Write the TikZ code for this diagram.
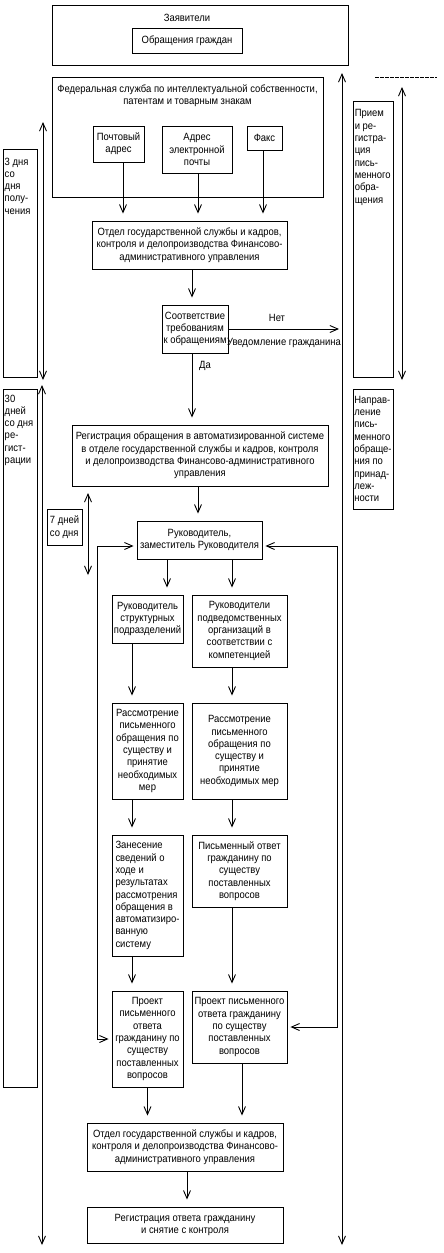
\documentclass[tikz,border=0pt]{standalone}
\usepackage{fontspec}
\setmainfont[FakeStretch=0.9]{Liberation Sans}
\usetikzlibrary{arrows.meta}
\newcommand\blkfont{\fontsize{10.5}{12.3}\selectfont}

\begin{document}
\begin{tikzpicture}[x=1pt,y=-1pt,
    box/.style={draw, line width=0.9pt, inner sep=1pt, align=center, font=\blkfont},
    lbl/.style={inner sep=1pt, align=center, font=\blkfont},
    ltxt/.style={inner sep=1pt, align=left, font=\blkfont, anchor=north west},
    harr/.style={line width=0.9pt, -{Straight Barb[length=8pt,width=7pt]}},
    arr/.style={line width=0.9pt, -{Straight Barb[length=8pt,width=7pt]}, shorten >=7pt},
    darr/.style={line width=0.9pt, {Straight Barb[length=8pt,width=7pt]}-{Straight Barb[length=8pt,width=7pt]}}]

    \useasboundingbox (0,0) rectangle (444,1253);

    % Applicants
    \node[box, minimum width=296, minimum height=60] (zaj) at (200,35) {};
    \node[lbl] (zajt) at (187,18) {Заявители};
    \node[box, minimum width=110, minimum height=25] (obr) at (187,40.5) {Обращения граждан};

    % Federal service and its channels
    \node[box, minimum width=271, minimum height=120] (fed) at (187.5,137) {};
    \node[lbl] (fedt) at (187.5,96) {Федеральная служба по интеллектуальной собственности,\\патентам и товарным знакам};
    \node[box, minimum width=51, minimum height=36] (post) at (118.5,144) {Почтовый\\адрес};
    \node[box, minimum width=70, minimum height=47] (email) at (197,149.5) {Адрес\\электронной\\почты};
    \node[box, minimum width=35, minimum height=24] (fax) at (264.5,138) {Факс};

    % Main chain
    \node[box, minimum width=195, minimum height=48] (otd1) at (189.5,245) {Отдел государственной службы и кадров,\\контроля и делопроизводства Финансово-\\административного управления};
    \node[box, minimum width=66, minimum height=48] (sootv) at (195,329) {Соответствие\\требованиям\\к обращениям};
    \node[box, minimum width=256, minimum height=61] (regz) at (200,455.5) {Регистрация обращения в автоматизированной системе\\в отделе государственной службы и кадров, контроля\\и делопроизводства Финансово-административного\\управления};
    \node[box, minimum width=125, minimum height=38] (ruk) at (199.5,540) {Руководитель,\\заместитель Руководителя};

    % Two branches
    \node[box, minimum width=71, minimum height=48] (rs) at (147.5,619) {Руководитель\\структурных\\подразделений};
    \node[box, minimum width=95, minimum height=72] (rp) at (239.5,631) {Руководители\\подведомственных\\организаций в\\соответствии с\\компетенцией};
    \node[box, minimum width=71, minimum height=96] (ras1) at (147.5,751) {Рассмотрение\\письменного\\обращения по\\существу и\\принятие\\необходимых\\мер};
    \node[box, minimum width=95, minimum height=96] (ras2) at (239.5,751) {Рассмотрение\\письменного\\обращения по\\существу и\\принятие\\необходимых мер};
    \node[box, align=left, minimum width=71, minimum height=121] (zan) at (147.5,895.5) {Занесение\\сведений о\\ходе и\\результатах\\рассмотрения\\обращения в\\автоматизиро-\\ванную\\систему};
    \node[box, minimum width=95, minimum height=72] (pis) at (239.5,871) {Письменный ответ\\гражданину по\\существу\\поставленных\\вопросов};
    \node[box, minimum width=71, minimum height=96] (pr1) at (147.5,1039) {Проект\\письменного\\ответа\\гражданину по\\существу\\поставленных\\вопросов};
    \node[box, minimum width=95, minimum height=72] (pr2) at (239.5,1027) {Проект письменного\\ответа гражданину\\по существу\\поставленных\\вопросов};

    % Final steps
    \node[box, minimum width=196, minimum height=48] (otd2) at (185,1147) {Отдел государственной службы и кадров,\\контроля и делопроизводства Финансово-\\административного управления};
    \node[box, minimum width=196, minimum height=36] (regotv) at (185,1225) {Регистрация ответа гражданину\\и снятие с контроля};

    % Time limits and stages
    \node[box, minimum width=34, minimum height=228] (d3) at (20,263) {};
    \node[ltxt] (d3t) at ([xshift=1pt,yshift=-8pt]d3.north west) {3 дня\\со\\дня\\полу-\\чения};
    \node[box, minimum width=34, minimum height=698] (d30) at (20,738) {};
    \node[ltxt] (d30t) at ([xshift=1pt,yshift=-5pt]d30.north west) {30\\дней\\со дня\\ре-\\гист-\\рации};
    \node[box, align=left, minimum width=35, minimum height=36] (d7) at (64.5,527) {7 дней\\со дня};
    \node[box, minimum width=40, minimum height=276] (priem) at (373,239) {};
    \node[ltxt] (priemt) at ([xshift=1pt,yshift=-8pt]priem.north west) {Прием\\и ре-\\гистра-\\ция\\пись-\\менного\\обра-\\щения};
    \node[box, align=left, minimum width=40, minimum height=120] (napr) at (373,449) {Направ-\\ление\\пись-\\менного\\обраще-\\ния по\\принад-\\леж-\\ности};

    % Connectors
    \draw[arr] ([xshift=4.5pt]post.south) -- ([xshift=4.5pt]post.south |- otd1.north);
    \draw[arr] ([xshift=1pt]email.south) -- ([xshift=1pt]email.south |- otd1.north);
    \draw[arr] ([xshift=-1.5pt]fax.south) -- ([xshift=-1.5pt]fax.south |- otd1.north);
    \draw[arr] ([xshift=2.5pt]otd1.south) -- ([xshift=2.5pt]otd1.south |- sootv.north);
    \coordinate (net) at (339,329);
    \draw[harr] (sootv.east) -- (net);
    \node[lbl] (no) at (277,318) {Нет};
    \node[lbl] (notify) at (284,343) {Уведомление гражданина};
    \draw[arr] ([xshift=-3pt]sootv.south) -- ([xshift=-3pt]sootv.south |- regz.north);
    \node[lbl] (yes) at (205,366) {Да};
    \draw[arr] ([xshift=-2pt]regz.south) -- ([xshift=-2pt]regz.south |- ruk.north);
    \draw[arr] ([xshift=-32.5pt]ruk.south) -- ([xshift=-32.5pt]ruk.south |- rs.north);
    \draw[arr] ([xshift=32.5pt]ruk.south) -- ([xshift=32.5pt]ruk.south |- rp.north);
    \draw[arr] ([xshift=-15.5pt]rs.south) -- ([xshift=-15.5pt]rs.south |- ras1.north);
    \draw[arr] ([xshift=-7.5pt]rp.south) -- ([xshift=-7.5pt]rp.south |- ras2.north);
    \draw[arr] ([xshift=-15.5pt]ras1.south) -- ([xshift=-15.5pt]ras1.south |- zan.north);
    \draw[arr] ([xshift=-7.5pt]ras2.south) -- ([xshift=-7.5pt]ras2.south |- pis.north);
    \draw[arr] ([xshift=-15.5pt]zan.south) -- ([xshift=-15.5pt]zan.south |- pr1.north);
    \draw[arr] ([xshift=-7.5pt]pis.south) -- ([xshift=-7.5pt]pis.south |- pr2.north);
    \draw[arr] (pr1.south) -- (pr1.south |- otd2.north);
    \draw[arr] ([xshift=2.5pt]pr2.south) -- ([xshift=2.5pt]pr2.south |- otd2.north);
    \draw[arr] ([xshift=2pt]otd2.south) -- ([xshift=2pt]otd2.south |- regotv.north);

    % Return loops to the head
    \coordinate (fbl) at ([xshift=-14pt]pr1.west);
    \coordinate (fbr) at ([xshift=50pt]pr2.east);
    \draw[darr, shorten <=3pt, shorten >=3pt] ([yshift=-6pt]ruk.west) -| (fbl) -- (pr1.west);
    \draw[darr, shorten <=3pt, shorten >=3pt] ([yshift=-6pt]ruk.east) -| (fbr) -- (pr2.east);

    % Period arrows
    \coordinate (p3t) at (43,122);   \coordinate (p3b) at (43,380);
    \coordinate (p30t) at (42,385);  \coordinate (p30b) at (42,1245);
    \coordinate (p7t) at (88,493);   \coordinate (p7b) at (88,575);
    \coordinate (pRt) at (342,73);   \coordinate (pRb) at (342,1245);
    \coordinate (prt) at (402,87);   \coordinate (prb) at (402,380);
    \draw[darr] (p3t) -- (p3b);
    \draw[darr] (p30t) -- (p30b);
    \draw[darr] (p7t) -- (p7b);
    \draw[darr] (pRt) -- (pRb);
    \draw[darr] (prt) -- (prb);
    \coordinate (dsa) at (375,77);   \coordinate (dsb) at (437,77);
    \draw[line width=0.9pt, dash pattern=on 3.5pt off 1.5pt] (dsa) -- (dsb);

\end{tikzpicture}
\end{document}
